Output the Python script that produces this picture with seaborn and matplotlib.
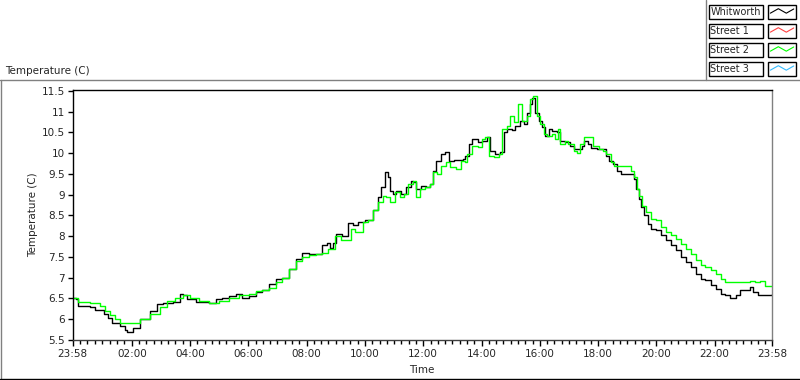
import matplotlib
matplotlib.use("Agg")
import numpy as np
import pandas as pd
import matplotlib.pyplot as plt
import seaborn as sns

# minutes since 23:58, temperature (C)
whit_min = [0, 8, 12, 37, 47, 61, 65, 74, 82, 98, 108, 112, 118, 125, 139, 159, 174, 186,
            206, 221, 227, 235, 255, 282, 296, 308, 323, 337, 349, 364, 378, 390, 405, 419,
            431, 445, 460, 472, 486, 501, 513, 523, 531, 537, 543, 554, 568, 578, 588, 603,
            613, 619, 629, 635, 644, 650, 654, 660, 666, 676, 686, 697, 701, 707, 717, 727,
            735, 742, 748, 758, 766, 776, 786, 803, 809, 817, 823, 834, 844, 854, 860, 870,
            880, 889, 895, 905, 911, 921, 930, 936, 942, 946, 952, 960, 966, 972, 981, 987,
            997, 1003, 1013, 1024, 1032, 1042, 1048, 1054, 1062, 1068, 1079, 1089, 1099,
            1105, 1113, 1120, 1130, 1150, 1156, 1160, 1167, 1171, 1177, 1185, 1191, 1201,
            1211, 1222, 1232, 1242, 1252, 1263, 1273, 1283, 1293, 1303, 1314, 1324, 1334,
            1344, 1354, 1365, 1375, 1385, 1395, 1401, 1412, 1422, 1440]
whit_temp = [6.5, 6.48, 6.32, 6.3, 6.22, 6.22, 6.12, 6.02, 5.92, 5.84, 5.74, 5.7, 5.7, 5.8,
             6.0, 6.2, 6.36, 6.4, 6.41, 6.6, 6.58, 6.48, 6.42, 6.4, 6.48, 6.5, 6.56, 6.6,
             6.52, 6.57, 6.65, 6.7, 6.84, 6.96, 7.0, 7.2, 7.44, 7.6, 7.56, 7.58, 7.8, 7.84,
             7.72, 7.84, 8.06, 8.0, 8.31, 8.26, 8.34, 8.39, 8.4, 8.62, 8.94, 9.18, 9.54,
             9.42, 9.1, 9.02, 9.1, 9.02, 9.18, 9.34, 9.3, 9.14, 9.2, 9.18, 9.26, 9.58, 9.82,
             9.98, 10.04, 9.82, 9.84, 9.85, 9.94, 10.22, 10.34, 10.26, 10.3, 10.38, 10.06,
             9.98, 10.02, 10.5, 10.58, 10.56, 10.66, 10.78, 10.7, 10.98, 11.18, 11.34, 10.98,
             10.78, 10.62, 10.42, 10.58, 10.54, 10.5, 10.3, 10.26, 10.18, 10.1, 10.1, 10.18,
             10.3, 10.22, 10.12, 10.1, 10.09, 9.94, 9.82, 9.74, 9.58, 9.5, 9.5, 9.38, 9.14,
             8.9, 8.7, 8.5, 8.3, 8.18, 8.14, 8.02, 7.9, 7.78, 7.66, 7.5, 7.38, 7.26, 7.1,
             6.98, 6.94, 6.82, 6.72, 6.62, 6.58, 6.5, 6.58, 6.7, 6.7, 6.78, 6.66, 6.58, 6.59,
             6.6]

st2_min = [0, 12, 37, 57, 67, 78, 88, 98, 108, 125, 139, 159, 180, 194, 210, 227, 241, 261,
           282, 302, 323, 343, 364, 378, 390, 405, 419, 431, 445, 460, 472, 486, 501, 513,
           527, 537, 541, 552, 564, 574, 582, 592, 599, 609, 619, 629, 639, 646, 654, 664,
           674, 682, 691, 701, 707, 715, 725, 735, 742, 750, 758, 768, 778, 789, 799, 807,
           813, 823, 834, 844, 850, 858, 868, 878, 885, 895, 901, 909, 917, 925, 936, 942,
           948, 956, 962, 970, 977, 987, 993, 999, 1003, 1013, 1021, 1032, 1038, 1044, 1054,
           1064, 1072, 1083, 1093, 1099, 1109, 1115, 1126, 1140, 1150, 1156, 1162, 1167,
           1173, 1181, 1191, 1201, 1211, 1222, 1232, 1242, 1252, 1263, 1273, 1283, 1293,
           1303, 1314, 1324, 1334, 1344, 1365, 1385, 1395, 1405, 1416, 1426, 1440]
st2_temp = [6.5, 6.42, 6.4, 6.32, 6.2, 6.1, 6.0, 5.92, 5.9, 5.9, 6.0, 6.12, 6.3, 6.45, 6.5,
            6.58, 6.5, 6.44, 6.4, 6.44, 6.5, 6.58, 6.6, 6.67, 6.7, 6.76, 6.9, 7.0, 7.2, 7.4,
            7.5, 7.55, 7.58, 7.6, 7.7, 7.7, 8.0, 7.9, 7.91, 8.18, 8.1, 8.1, 8.34, 8.39, 8.62,
            8.82, 8.98, 8.94, 8.82, 9.06, 8.94, 9.02, 9.26, 9.34, 8.94, 9.14, 9.18, 9.26,
            9.54, 9.5, 9.7, 9.78, 9.66, 9.62, 9.82, 9.78, 9.98, 10.18, 10.14, 10.34, 10.38,
            9.94, 9.9, 9.98, 10.58, 10.66, 10.9, 10.74, 11.18, 10.78, 10.9, 11.3, 11.38, 10.9,
            10.7, 10.46, 10.42, 10.46, 10.34, 10.58, 10.22, 10.3, 10.22, 10.06, 10.0, 10.22,
            10.38, 10.38, 10.18, 10.1, 10.06, 9.98, 9.78, 9.7, 9.68, 9.68, 9.58, 9.42, 9.14,
            8.98, 8.74, 8.58, 8.42, 8.38, 8.22, 8.1, 8.02, 7.94, 7.82, 7.7, 7.58, 7.42, 7.3,
            7.26, 7.18, 7.1, 6.98, 6.9, 6.9, 6.9, 6.92, 6.9, 6.91, 6.8, 6.8]

legend_names = ["Whitworth", "Street 1", "Street 2", "Street 3"]
legend_colors = ["#000000", "#ff4040", "#00ff00", "#33bbff"]

tick_minutes = [0, 122, 242, 362, 482, 602, 722, 842, 962, 1082, 1202, 1322, 1440]
tick_labels = ["23:58", "02:00", "04:00", "06:00", "08:00", "10:00", "12:00",
               "14:00", "16:00", "18:00", "20:00", "22:00", "23:58"]
y_ticks = [5.5, 6, 6.5, 7, 7.5, 8, 8.5, 9, 9.5, 10, 10.5, 11, 11.5]

df = pd.concat([
    pd.DataFrame({"minutes": whit_min, "temp": whit_temp, "sensor": "Whitworth"}),
    pd.DataFrame({"minutes": st2_min, "temp": st2_temp, "sensor": "Street 2"}),
])

sns.set_style("white")
plt.rcParams["font.family"] = ["DejaVu Sans"]
fs = 7.5

fig = plt.figure(figsize=(8, 3.8), dpi=100)

# overlay in pixel coords for frame + legend
ov = fig.add_axes([0, 0, 1, 1])
ov.set_xlim(0, 800)
ov.set_ylim(380, 0)
ov.axis("off")
ov.plot([0, 800], [79.5, 79.5], color="#808080", lw=1)
ov.plot([0.5, 0.5], [79.5, 378], color="#808080", lw=1)
ov.plot([0, 800], [378.5, 378.5], color="#000000", lw=1)
ov.plot([705.5, 705.5], [0, 79.5], color="#808080", lw=1)
ov.text(5, 71, "Temperature (C)", fontsize=fs, va="center", ha="left")
ov.text(33, 215, "Temperature (C)", fontsize=fs, rotation=90, va="center", ha="center")
ov.text(422, 370, "Time", fontsize=fs, va="center", ha="center")

for i, (name, col) in enumerate(zip(legend_names, legend_colors)):
    top = 4.5 + 19 * i
    ov.add_patch(plt.Rectangle((708.5, top), 54, 14, fill=True, facecolor="white",
                               edgecolor="black", lw=1))
    ov.add_patch(plt.Rectangle((767.5, top), 28.5, 14, fill=True, facecolor="white",
                               edgecolor="black", lw=1))
    ov.text(710.5, top + 7.5, name, fontsize=7, va="center", ha="left")
    sx = 767.5 + np.array([0.1, 0.38, 0.66, 0.92]) * 28.5
    sy = top + np.array([0.62, 0.3, 0.62, 0.32]) * 14
    ov.plot(sx, sy, color=col, lw=0.8)

ax = fig.add_axes([72.5 / 800, 40 / 380, (772 - 72.5) / 800, (340 - 89.5) / 380])
sns.lineplot(data=df, x="minutes", y="temp", hue="sensor",
             hue_order=["Whitworth", "Street 2"],
             palette={"Whitworth": "#000000", "Street 2": "#00ff00"},
             estimator=None, sort=False, lw=1.0, legend=False, ax=ax,
             drawstyle="steps-post")

ax.set_xlim(0, 1440)
ax.set_ylim(5.5, 11.535)
ax.set_xticks(tick_minutes)
ax.set_xticklabels(tick_labels)
minor = []
for a, b in zip(tick_minutes[:-1], tick_minutes[1:]):
    minor += list(np.linspace(a, b, 9)[1:-1])
ax.set_xticks(minor, minor=True)
ax.set_yticks(y_ticks)
ax.set_yticklabels([f"{v:g}" for v in y_ticks])
ax.set_xlabel("")
ax.set_ylabel("")
ax.tick_params(axis="both", which="both", bottom=True, left=True, direction="out",
               color="black", width=1, labelsize=fs, pad=2)
ax.tick_params(axis="x", which="major", length=4.5)
ax.tick_params(axis="x", which="minor", length=3)
ax.tick_params(axis="y", which="major", length=3.6)
for side, col in [("left", "black"), ("top", "black"), ("right", "#808080"), ("bottom", "#404040")]:
    ax.spines[side].set_visible(True)
    ax.spines[side].set_color(col)
    ax.spines[side].set_linewidth(1)

fig.savefig("out.png", dpi=100)
